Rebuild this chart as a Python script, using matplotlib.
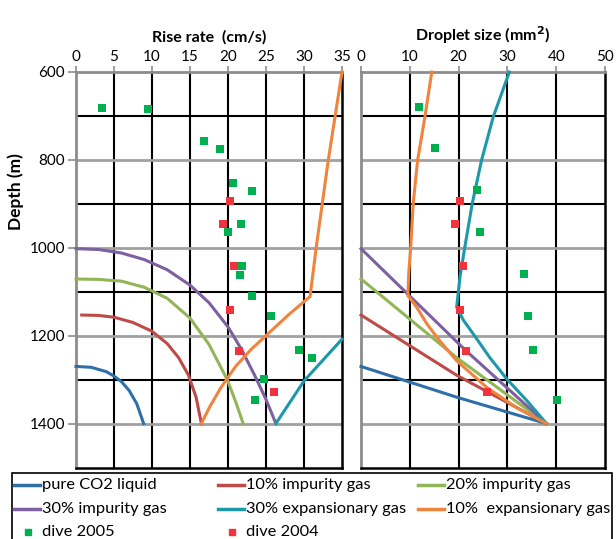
import matplotlib.pyplot as plt
from matplotlib.patches import Rectangle
from matplotlib.lines import Line2D

plt.rcParams['font.family'] = ['Lato', 'DejaVu Sans']

# ---- rise rate (cm/s) vs depth (m) ----
rr_pure_x = [0, 2, 4, 5, 6, 7, 8, 8.9]
rr_pure_y = [1270, 1272, 1282, 1292, 1305, 1325, 1355, 1400]
rr_imp10_x = [0.75, 3, 5, 7.5, 10, 12, 13.5, 14.8, 15.8, 16.5]
rr_imp10_y = [1153, 1154, 1158, 1170, 1190, 1218, 1250, 1290, 1340, 1400]
rr_imp20_x = [0, 3, 6, 9, 12, 15, 17.5, 19.9, 21, 22.0]
rr_imp20_y = [1071, 1072, 1076, 1090, 1115, 1160, 1220, 1300, 1350, 1400]
rr_imp30_x = [0, 3, 6, 9, 12, 15, 17.5, 20, 21.8, 23.5, 25, 26.3]
rr_imp30_y = [1002, 1004, 1012, 1027, 1050, 1085, 1125, 1180, 1232, 1290, 1345, 1400]
rr_exp30_x = [26.3, 30, 35]
rr_exp30_y = [1400, 1303, 1208]
rr_exp10_x = [16.5, 17.5, 19, 21, 23, 25, 28, 30.8, 31.6, 32.4, 33.2, 34.1, 35]
rr_exp10_y = [1400, 1365, 1320, 1270, 1232, 1200, 1152, 1111, 1000, 900, 800, 700, 600]

rr_d2005_x = [3.4, 9.5, 16.9, 18.9, 20.7, 23.1, 21.7, 20.0, 21.9, 21.6, 23.2, 25.7, 29.3, 31.0, 24.8, 23.6]
rr_d2005_y = [681, 684, 756, 776, 852, 870, 946, 965, 1042, 1061, 1110, 1156, 1233, 1251, 1299, 1346]
rr_d2004_x = [20.2, 19.4, 20.8, 20.3, 21.5, 26.0]
rr_d2004_y = [894, 946, 1042, 1141, 1235, 1328]

# ---- droplet size (mm2) vs depth (m) ----
ds_pure_x = [0, 19.6, 38]
ds_pure_y = [1270, 1340, 1400]
ds_imp10_x = [0, 19.6, 38]
ds_imp10_y = [1153, 1290, 1400]
ds_imp20_x = [0, 19.6, 38]
ds_imp20_y = [1071, 1250, 1400]
ds_imp30_x = [0, 21.3, 38]
ds_imp30_y = [1002, 1232, 1400]
ds_exp30_x = [30.4, 27.1, 24.7, 22.8, 21.3, 20.3, 19.6, 21, 23.0, 26.4, 29.9, 34.0, 38]
ds_exp30_y = [600, 702, 801, 899, 997, 1065, 1135, 1165, 1196, 1250, 1299, 1348, 1400]
ds_exp10_x = [14.5, 13.1, 11.6, 10.7, 10.2, 9.8, 9.6, 11.4, 13.5, 16, 19.6, 25.8, 31.9, 38]
ds_exp10_y = [600, 702, 801, 899, 997, 1055, 1109, 1135, 1173, 1210, 1257, 1318, 1364, 1400]

ds_d2005_x = [11.9, 15.1, 23.8, 24.4, 33.3, 34.2, 35.2, 40.2]
ds_d2005_y = [679, 774, 869, 964, 1060, 1156, 1233, 1347]
ds_d2004_x = [20.3, 19.3, 20.9, 20.3, 21.6, 25.9]
ds_d2004_y = [894, 945, 1041, 1141, 1235, 1329]

labels = ['pure CO2 liquid', '10% impurity gas', '20% impurity gas',
          '30% impurity gas', '30% expansionary gas', '10%  expansionary gas']
colors = ['#2E6FA7', '#BE4B48', '#92B558', '#7D60A0', '#1B98A9', '#F0843C']
c2005 = '#00B050'
c2004 = '#F0333C'

fig = plt.figure(figsize=(6.16, 5.39), dpi=100)
W, H = 616, 539
ax1 = fig.add_axes([76 / W, 1 - 467.5 / H, 266 / W, 395.5 / H])
ax2 = fig.add_axes([361 / W, 1 - 467.5 / H, 244 / W, 395.5 / H])


def style(ax, xmax, xstep, title):
    ax.set_xlim(0, xmax)
    ax.set_ylim(1500, 600)
    ax.xaxis.tick_top()
    ax.set_xticks(range(0, xmax + 1, xstep))
    ax.set_yticks([600, 800, 1000, 1200, 1400])
    ax.tick_params(axis='both', labelsize=11, length=4, width=1.2, color='#8C8C8C', pad=2)
    ax.tick_params(axis='y', length=6)
    for v in range(xstep, xmax, xstep):
        ax.axvline(v, color='black', lw=1.5, zorder=1)
    for h in [700, 900, 1100, 1300]:
        ax.axhline(h, color='black', lw=1.5, zorder=1)
    for h in [800, 1000, 1200, 1400]:
        ax.axhline(h, color='#A0A0A0', lw=2, zorder=1)
    ax.spines['top'].set_color('#8C8C8C')
    ax.spines['left'].set_color('#8C8C8C')
    ax.spines['top'].set_linewidth(2)
    ax.spines['left'].set_linewidth(2)
    ax.spines['right'].set_color('black')
    ax.spines['bottom'].set_color('black')
    ax.spines['right'].set_linewidth(1.8)
    ax.spines['bottom'].set_linewidth(1.8)
    ax.set_title(title, fontsize=11.5, fontweight='bold', pad=6)


style(ax1, 35, 5, 'Rise rate  (cm/s)')
style(ax2, 50, 10, 'Droplet size (mm$^\\mathbf{2}$)')
ax2.tick_params(axis='y', labelleft=False, length=0)
ax1.set_ylabel('Depth (m)', fontsize=12.5, fontweight='bold')
ax1.yaxis.set_label_coords(-0.195, 0.697)

rr = [(rr_pure_x, rr_pure_y), (rr_imp10_x, rr_imp10_y), (rr_imp20_x, rr_imp20_y),
      (rr_imp30_x, rr_imp30_y), (rr_exp30_x, rr_exp30_y), (rr_exp10_x, rr_exp10_y)]
ds = [(ds_pure_x, ds_pure_y), (ds_imp10_x, ds_imp10_y), (ds_imp20_x, ds_imp20_y),
      (ds_imp30_x, ds_imp30_y), (ds_exp30_x, ds_exp30_y), (ds_exp10_x, ds_exp10_y)]

for (x, y), c in zip(rr, colors):
    ax1.plot(x, y, color=c, lw=2.2, zorder=3, clip_on=False, solid_joinstyle='round')
for (x, y), c in zip(ds, colors):
    ax2.plot(x, y, color=c, lw=2.2, zorder=3, clip_on=False, solid_joinstyle='round')

ax1.scatter(rr_d2005_x, rr_d2005_y, marker='s', s=36, color=c2005, zorder=4, lw=0)
ax1.scatter(rr_d2004_x, rr_d2004_y, marker='s', s=36, color=c2004, zorder=4, lw=0)
ax2.scatter(ds_d2005_x, ds_d2005_y, marker='s', s=36, color=c2005, zorder=4, lw=0)
ax2.scatter(ds_d2004_x, ds_d2004_y, marker='s', s=36, color=c2004, zorder=4, lw=0)

# legend box, laid out by hand like the spreadsheet legend
fig.patches.append(Rectangle((12 / W, -0.05), 600 / W, 0.05 + 1 - 473 / H,
                             transform=fig.transFigure, fill=False,
                             edgecolor='black', lw=1.2))
col_x = [14, 218, 418]
row_y = [485, 509, 532]
entries = [(0, 0, 'line', colors[0], labels[0]), (0, 1, 'line', colors[1], labels[1]),
           (0, 2, 'line', colors[2], labels[2]), (1, 0, 'line', colors[3], labels[3]),
           (1, 1, 'line', colors[4], labels[4]), (1, 2, 'line', colors[5], labels[5]),
           (2, 0, 'mark', c2005, 'dive 2005'), (2, 1, 'mark', c2004, 'dive 2004')]
for r, c, kind, col, name in entries:
    x0 = col_x[c] / W
    y0 = 1 - row_y[r] / H
    if kind == 'line':
        fig.lines.append(Line2D([x0, x0 + 26 / W], [y0, y0], color=col, lw=2.5,
                                transform=fig.transFigure))
    else:
        fig.lines.append(Line2D([x0 + 14 / W], [y0], color=col, marker='s', ms=5,
                                ls='none', transform=fig.transFigure))
    fig.text(x0 + 27.5 / W, y0, name, fontsize=11.8, va='center', ha='left')

fig.savefig('out.png', dpi=100)
